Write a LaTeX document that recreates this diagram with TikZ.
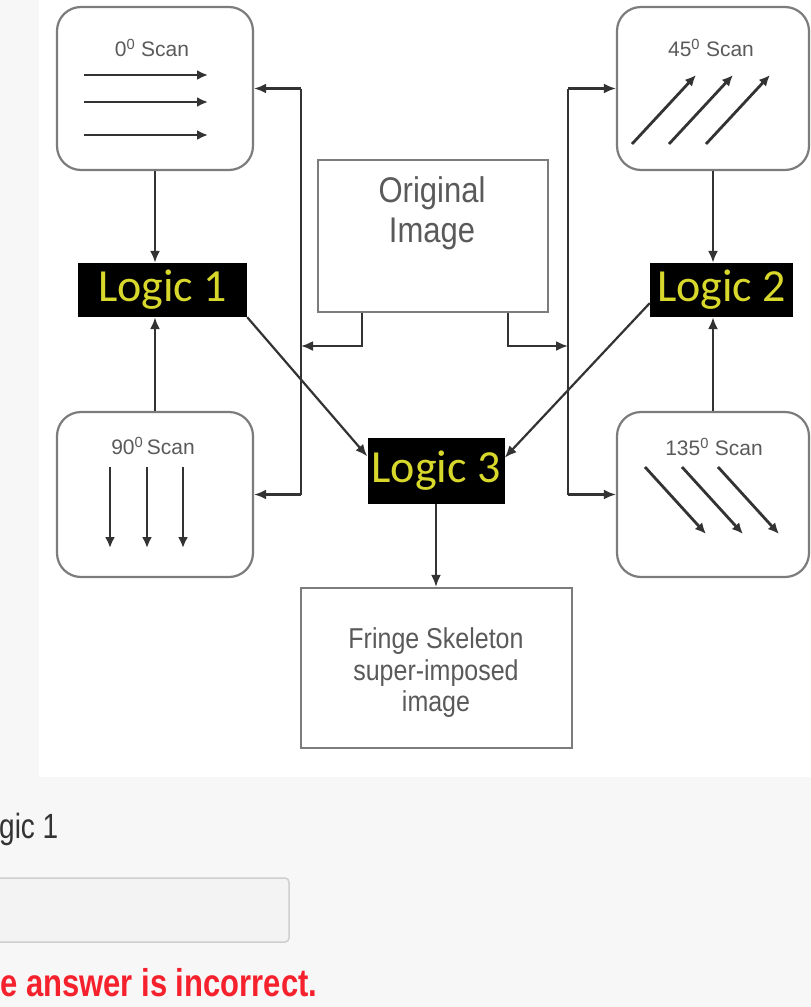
\documentclass[tikz,border=0pt]{standalone}
\usepackage{fontspec}
\setmainfont{Liberation Sans}
\newfontfamily\calib{Carlito}
\usepackage{graphicx}
\usetikzlibrary{arrows.meta,calc}
\definecolor{pagebg}{HTML}{F7F7F7}
\definecolor{boxline}{HTML}{7C7C7C}
\definecolor{txtgray}{HTML}{5A5A5A}
\definecolor{linedark}{HTML}{333333}
\definecolor{logicyel}{HTML}{D8D82C}
\definecolor{errred}{HTML}{F5222D}
\definecolor{inputline}{HTML}{CFCFCF}
\definecolor{inputfill}{HTML}{F3F3F3}
\begin{document}
\begin{tikzpicture}[x=1pt,y=-1pt,
  scanbox/.style={draw=boxline, line width=2.2pt, rounded corners=24pt, fill=white, inner sep=0pt},
  plainbox/.style={draw=boxline, line width=2.2pt, fill=white, inner sep=0pt},
  logicbox/.style={fill=black, text=logicyel, font=\calib\fontsize{46}{46}\selectfont, inner sep=0pt},
  conn/.style={draw=linedark, line width=2.2pt, -{Latex[length=12pt,width=10pt]}},
  bus/.style={draw=linedark, line width=2.2pt},
  scanarrow/.style={draw=linedark, line width=2.8pt, -{Latex[length=11pt,width=10pt]}},
  scanlabel/.style={text=txtgray, font=\fontsize{21}{21}\selectfont, inner sep=0pt},
  boxtext/.style={text=txtgray, align=center, inner sep=0pt}
]
\useasboundingbox (0,0) rectangle (811,1007);
\fill[pagebg] (0,0) rectangle (811,1007);
\fill[white] (39,0) rectangle (811,777);

% boxes
\node[scanbox, minimum width=196pt, minimum height=163pt] (scan0) at (155,88.5) {};
\node[scanbox, minimum width=196pt, minimum height=165pt] (scan90) at (155,494.5) {};
\node[scanbox, minimum width=192pt, minimum height=163pt] (scan45) at (713,88.5) {};
\node[scanbox, minimum width=192pt, minimum height=165pt] (scan135) at (713,494.5) {};
\node[plainbox, minimum width=230pt, minimum height=152pt] (orig) at (433,236) {};
\node[plainbox, minimum width=271pt, minimum height=160pt] (fringe) at (436.5,668) {};

% box texts
\node[scanlabel] (t0) at (152,48) {0\textsuperscript{0} Scan};
\node[scanlabel] (t45) at (711,48) {45\textsuperscript{0} Scan};
\node[scanlabel] (t90) at (153,446) {90\textsuperscript{0}\,Scan};
\node[scanlabel] (t135) at (714,447) {135\textsuperscript{0} Scan};
\node[boxtext, font=\fontsize{31}{35}\selectfont] (torig) at (432,213) {\scalebox{1}[1.15]{Original}\\[5pt]\scalebox{1}[1.15]{Image}};
\node[boxtext, font=\fontsize{25}{29}\selectfont] (tfringe) at (436,673) {\scalebox{1}[1.15]{Fringe Skeleton}\\[3pt]\scalebox{1}[1.15]{super-imposed}\\[2pt]\scalebox{1}[1.15]{image}};

% logic boxes
\node[logicbox, minimum width=169pt, minimum height=54pt] (logic1) at (162.5,290) {Logic 1};
\node[logicbox, minimum width=143pt, minimum height=54pt] (logic2) at (721.5,290) {Logic 2};
\node[logicbox, minimum width=137pt, minimum height=66pt] (logic3) at (436,471) {Logic 3};

% scan arrows
\foreach \yy in {75,102,135} {\draw[scanarrow] (84,\yy) -- (208,\yy);}
\foreach \xx in {110,147,183} {\draw[scanarrow] (\xx,467) -- (\xx,548);}
\foreach \dx in {0,37,74} {\draw[scanarrow] (632+\dx,144) -- (696+\dx,75);}
\foreach \dx in {0,37,73} {\draw[scanarrow] (645+\dx,467) -- (706+\dx,534);}

% connectors scan -> logic
\draw[conn] (scan0.south) -- (scan0.south |- logic1.north);
\draw[conn] (scan90.north) -- (scan90.north |- logic1.south);
\draw[conn] (scan45.south) -- (scan45.south |- logic2.north);
\draw[conn] (scan135.north) -- (scan135.north |- logic2.south);

% logic -> logic3 -> fringe
\draw[conn] (logic1.south east) -- ($(logic3.north west)!0.28!(logic3.south west)$);
\draw[conn] ($(logic2.north west)!0.74!(logic2.south west)$) -- ($(logic3.north east)!0.3!(logic3.south east)$);
\draw[conn] (logic3.south) -- (logic3.south |- fringe.north);

% buses
\coordinate (lt) at (301,88.5);
\coordinate (lb) at (301,494.5);
\coordinate (rt) at (568,88.5);
\coordinate (rb) at (568,494.5);
\draw[bus] (lt) -- (lb);
\draw[bus] (rt) -- (rb);
\draw[conn] (lt) -- (scan0.east);
\draw[conn] (lb) -- (scan90.east);
\draw[conn] (rt) -- (scan45.west);
\draw[conn] (rb) -- (scan135.west);

% original image branches
\coordinate (ol) at (362,346);
\coordinate (or) at (508,346);
\draw[conn] (orig.south -| ol) -- (ol) -- (lt |- ol);
\draw[conn] (orig.south -| or) -- (or) -- (rt |- or);

% page below
\node[anchor=base west, inner sep=0pt, text=linedark, font=\fontsize{28}{28}\selectfont] (q) at (-1,838) {\scalebox{1}[1.25]{gic 1}};
\draw[draw=inputline, fill=inputfill, line width=1.5pt, rounded corners=4pt] (-10,878) rectangle (289,942);
\node[anchor=base west, inner sep=0pt, text=errred, font=\bfseries\fontsize{31}{31}\selectfont] (err) at (0,996) {\scalebox{1}[1.25]{e answer is incorrect.}};
\end{tikzpicture}
\end{document}
